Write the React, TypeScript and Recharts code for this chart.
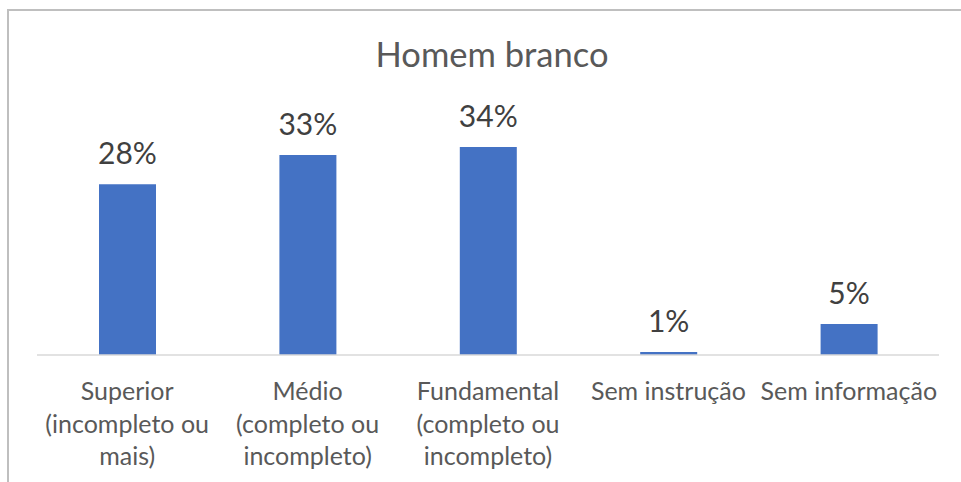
import React from 'react';
import { BarChart, Bar, XAxis, YAxis, LabelList } from 'recharts';

const categories = [
  'Superior (incompleto ou mais)',
  'Médio (completo ou incompleto)',
  'Fundamental (completo ou incompleto)',
  'Sem instrução',
  'Sem informação',
];
const tickLines = [
  ['Superior', '(incompleto ou', 'mais)'],
  ['Médio', '(completo ou', 'incompleto)'],
  ['Fundamental', '(completo ou', 'incompleto)'],
  ['Sem instrução'],
  ['Sem informação'],
];
const shares = [28.0, 32.8, 34.1, 0.5, 5.1];

const data = categories.map((name, i) => ({ name, value: shares[i] }));

const FONT = 'Lato, "Open Sans", sans-serif';

const CategoryTick = (props: any) => {
  const { x, y, payload } = props;
  const idx = categories.indexOf(payload.value);
  const lines = tickLines[idx] || [payload.value];
  return (
    <text x={x} y={y} textAnchor="middle" fill="#595959" fontSize={25} fontFamily={FONT}>
      {lines.map((l, i) => (
        <tspan key={i} x={x} y={y + 45 + i * 32.5}>
          {l}
        </tspan>
      ))}
    </text>
  );
};

export default function App() {
  return (
    <div style={{ position: 'absolute', left: 0, top: 0, width: 961, height: 482, overflow: 'hidden', background: '#fff' }}>
      <div
        style={{
          position: 'absolute',
          left: 7,
          top: 9,
          width: 1200,
          height: 1000,
          borderTop: '2px solid #bfbfbf',
          borderLeft: '2px solid #bfbfbf',
        }}
      />
      <div
        style={{
          position: 'absolute',
          left: 0,
          width: 984,
          top: 33,
          textAlign: 'center',
          fontFamily: FONT,
          fontSize: 34.5,
          color: '#595959',
          lineHeight: '42px',
        }}
      >
        Homem branco
      </div>
      <div style={{ position: 'absolute', left: 0, top: 0 }}>
        <BarChart width={961} height={482} data={data} margin={{ top: 111, right: 22, bottom: 97, left: 37 }} barSize={57}>
          <XAxis
            dataKey="name"
            height={30}
            axisLine={{ stroke: '#d9d9d9', strokeWidth: 1.5 }}
            tickLine={false}
            tickSize={0}
            tickMargin={0}
            interval={0}
            tick={<CategoryTick />}
          />
          <YAxis hide domain={[0, 40]} />
          <Bar dataKey="value" fill="#4472C4" isAnimationActive={false}>
            <LabelList
              dataKey="value"
              position="top"
              offset={20}
              formatter={(v: any) => `${Math.round(v)}%`}
              fill="#404040"
              fontSize={30}
              fontFamily={FONT}
            />
          </Bar>
        </BarChart>
      </div>
    </div>
  );
}
